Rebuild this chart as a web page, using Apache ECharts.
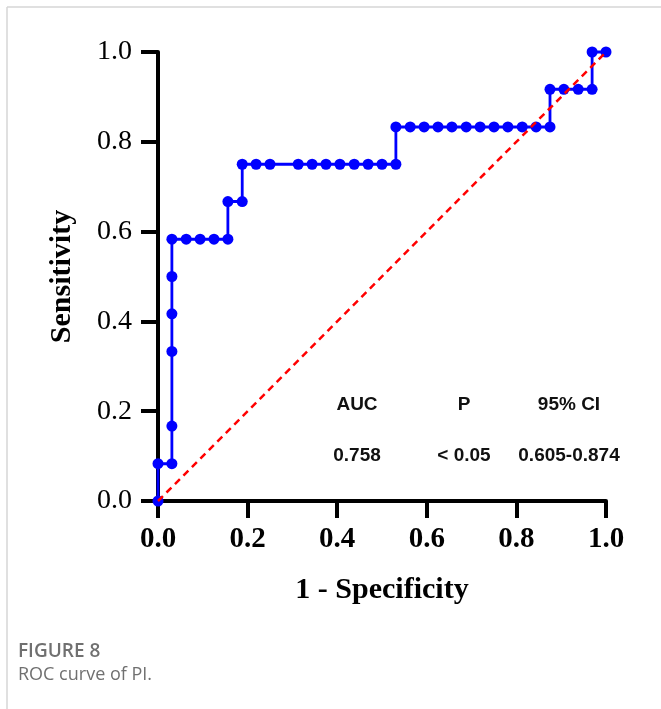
<!DOCTYPE html>
<html>
<head>
<meta charset="utf-8">
<script src="https://cdn.jsdelivr.net/npm/echarts@6/dist/echarts.min.js"></script>
<style>
  html, body { margin: 0; padding: 0; background: #fff; }
  #chart { width: 661px; height: 709px; }
</style>
</head>
<body>
<div id="chart"></div>
<script>
// ROC points (1 - specificity, sensitivity)
const fpr = [0, 0, 0.031, 0.031, 0.031, 0.031, 0.031, 0.031, 0.063, 0.094, 0.125, 0.156,
  0.156, 0.188, 0.188, 0.219, 0.25, 0.313, 0.344, 0.375, 0.406, 0.438, 0.469, 0.5, 0.531,
  0.531, 0.563, 0.594, 0.625, 0.656, 0.688, 0.719, 0.75, 0.781, 0.813, 0.844, 0.875,
  0.875, 0.906, 0.938, 0.969, 0.969, 1.0]
const tpr = [0, 0.083, 0.083, 0.167, 0.333, 0.417, 0.5, 0.583, 0.583, 0.583, 0.583, 0.583,
  0.667, 0.667, 0.75, 0.75, 0.75, 0.75, 0.75, 0.75, 0.75, 0.75, 0.75, 0.75, 0.75,
  0.833, 0.833, 0.833, 0.833, 0.833, 0.833, 0.833, 0.833, 0.833, 0.833, 0.833, 0.833,
  0.917, 0.917, 0.917, 0.917, 1.0, 1.0]
const refX = [0, 1]
const refY = [0, 1]

const statHeads = ['AUC', 'P', '95% CI']
const statValues = ['0.758', '< 0.05', '0.605-0.874']

const serif = '"Liberation Serif", "Times New Roman", serif'
const sans = '"Liberation Sans", Arial, sans-serif'

const chart = echarts.init(document.getElementById('chart'))

// table of stats inside the plot
const statX = [357, 464, 569]
const statText = []
statHeads.forEach((t, i) => {
  statText.push({
    type: 'text', x: statX[i], y: 405,
    style: { text: t, font: 'bold 19px ' + sans, fill: '#111', align: 'center', verticalAlign: 'middle' }
  })
  statText.push({
    type: 'text', x: statX[i], y: 456,
    style: { text: statValues[i], font: 'bold 19px ' + sans, fill: '#111', align: 'center', verticalAlign: 'middle' }
  })
})

chart.setOption({
  animation: false,
  grid: { left: 158, right: 55, top: 52, bottom: 208 },
  xAxis: {
    type: 'value',
    min: 0,
    max: 1,
    interval: 0.2,
    name: '1 - Specificity',
    nameLocation: 'middle',
    nameGap: 74,
    nameTextStyle: { fontFamily: serif, fontWeight: 'bold', fontSize: 30, color: '#000' },
    axisLine: { lineStyle: { color: '#000', width: 4 } },
    axisTick: { length: 17, lineStyle: { color: '#000', width: 4 } },
    axisLabel: {
      margin: 24,
      fontFamily: serif, fontWeight: 'bold', fontSize: 29, color: '#000',
      formatter: v => v.toFixed(1)
    },
    splitLine: { show: false }
  },
  yAxis: {
    type: 'value',
    min: 0,
    max: 1,
    interval: 0.2,
    name: 'Sensitivity',
    nameLocation: 'middle',
    nameGap: 81,
    nameTextStyle: { fontFamily: serif, fontWeight: 'bold', fontSize: 30, color: '#000' },
    axisLine: { lineStyle: { color: '#000', width: 4 } },
    axisTick: { length: 17, lineStyle: { color: '#000', width: 4 } },
    axisLabel: {
      margin: 26,
      fontFamily: serif, fontSize: 28, color: '#000',
      formatter: v => v.toFixed(1)
    },
    splitLine: { show: false }
  },
  series: [
    {
      type: 'line',
      data: fpr.map((x, i) => [x, tpr[i]]),
      clip: false,
      color: '#0000ff',
      lineStyle: { width: 2.8, color: '#0000ff' },
      symbol: 'circle',
      symbolSize: 11,
      itemStyle: { color: '#0000ff' },
      z: 3
    },
    {
      type: 'line',
      data: refX.map((x, i) => [x, refY[i]]),
      symbol: 'none',
      lineStyle: { width: 2.5, color: '#ff0000', type: [7, 5] },
      z: 4
    }
  ],
  graphic: [
    { type: 'line', shape: { x1: 7, y1: 7, x2: 661, y2: 7 }, style: { stroke: '#d6d6d6', lineWidth: 1.5 } },
    { type: 'line', shape: { x1: 7, y1: 7, x2: 7, y2: 709 }, style: { stroke: '#d6d6d6', lineWidth: 1.5 } },
    ...statText,
    {
      type: 'text', x: 18, y: 652,
      style: { text: 'FIGURE 8', font: '600 19px "Open Sans", Lato, sans-serif', fill: '#707070', verticalAlign: 'middle' }
    },
    {
      type: 'text', x: 18, y: 675,
      style: { text: 'ROC curve of PI.', font: '18px "Open Sans", Lato, sans-serif', fill: '#707070', verticalAlign: 'middle' }
    }
  ]
})
</script>
</body>
</html>
